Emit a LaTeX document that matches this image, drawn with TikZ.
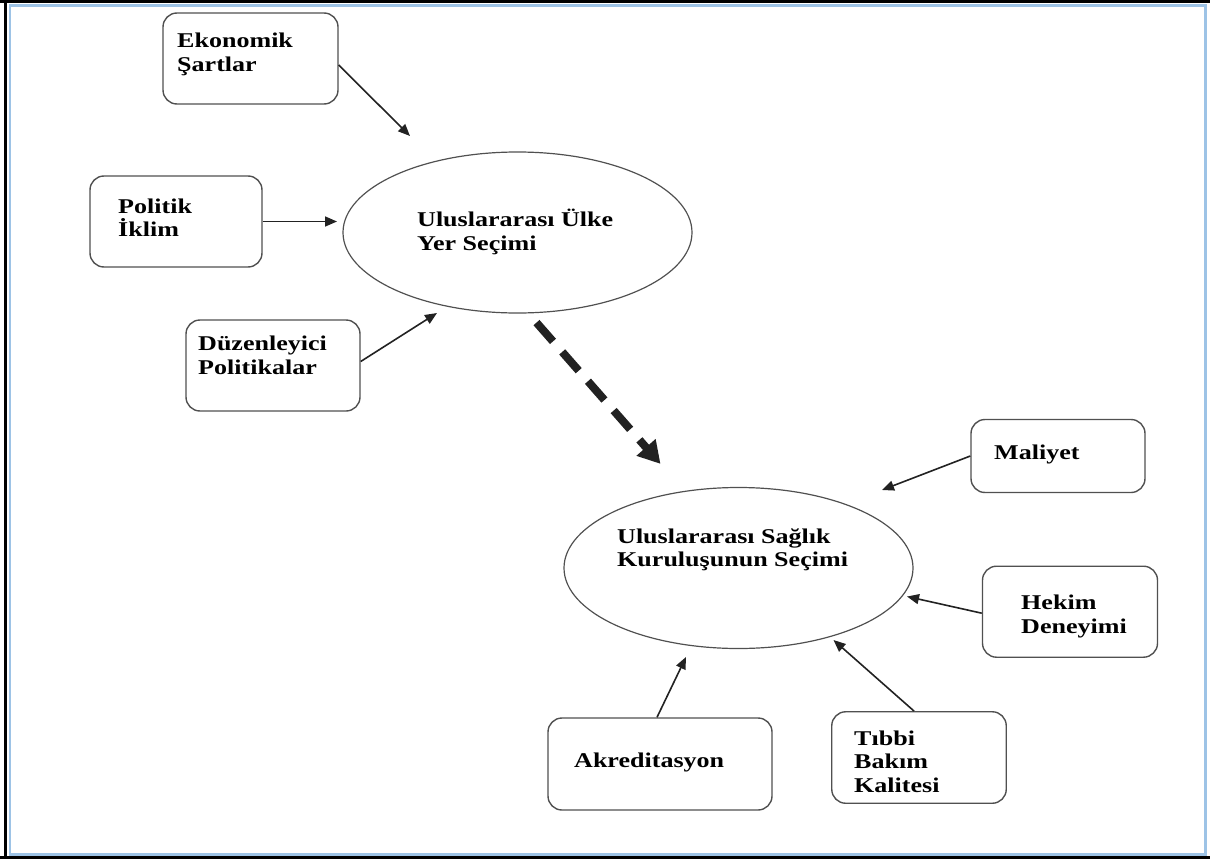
\documentclass[tikz,border=0pt]{standalone}
\usepackage{fontspec}
\setmainfont{Liberation Serif}[FakeStretch=1.24]
\usetikzlibrary{shapes.geometric,arrows.meta}
\definecolor{framebl}{HTML}{9DC3E6}
\definecolor{boxgray}{HTML}{505050}
\definecolor{arrowdark}{HTML}{222222}
\tikzset{
  factor/.style={draw=boxgray, line width=1.4pt, rounded corners=14pt, inner sep=0pt},
  goal/.style={ellipse, draw=boxgray, line width=1.2pt, inner sep=0pt, minimum width=349pt, minimum height=161pt},
  lbl/.style={anchor=base west, align=left, inner sep=0pt, font=\fontsize{21}{24}\selectfont\bfseries},
  infl/.style={draw=arrowdark, line width=1.6pt, -{Triangle[length=12pt,width=10pt]}},
  lead/.style={draw=arrowdark, line width=8pt, dash pattern=on 25pt off 14pt, -{Triangle[length=22pt,width=24pt]}}
}
\begin{document}
\begin{tikzpicture}[x=1pt,y=-1pt]
\useasboundingbox (0,0) rectangle (1210,859);
% frame
\draw[black, line width=3pt] (0,1.5) -- (1210,1.5);
\draw[black, line width=3pt] (5,0) -- (5,859);
\draw[black, line width=3pt] (0,857.5) -- (1210,857.5);
\draw[framebl, line width=2.5pt] (10,5.5) rectangle (1205.5,854.5);
% boxes
\node[factor, minimum width=175pt, minimum height=91pt] (eko) at (250.5,58.5) {};
\node[factor, minimum width=172pt, minimum height=91pt] (pol) at (176,221.5) {};
\node[factor, minimum width=174pt, minimum height=91pt] (duz) at (273,365.5) {};
\node[factor, minimum width=174pt, minimum height=73pt] (mal) at (1058,456) {};
\node[factor, minimum width=175pt, minimum height=91pt] (hek) at (1070,611.7) {};
\node[factor, minimum width=224pt, minimum height=92pt] (akr) at (660,764) {};
\node[factor, minimum width=174.5pt, minimum height=91.5pt] (tib) at (919,757.5) {};
% ellipses
\node[goal] (ue) at (517.5,232.5) {};
\node[goal] (us) at (738.5,568) {};
% labels (anchor = baseline of the last line)
\node[lbl] (ekol) at (177,71) {Ekonomik\\Şartlar};
\node[lbl, font=\fontsize{21}{23}\selectfont\bfseries] (poll) at (118,236.5) {Politik\\İklim};
\node[lbl] (duzl) at (198,374) {Düzenleyici\\Politikalar};
\node[lbl] (mall) at (994,459) {Maliyet};
\node[lbl] (hekl) at (1021,633) {Hekim\\Deneyimi};
\node[lbl] (akrl) at (574,767) {Akreditasyon};
\node[lbl, font=\fontsize{21}{23.5}\selectfont\bfseries] (tibl) at (854,792) {Tıbbi\\Bakım\\Kalitesi};
\node[lbl] (uel) at (417,250) {Uluslararası Ülke\\Yer Seçimi};
\node[lbl, font=\fontsize{21}{23}\selectfont\bfseries] (usl) at (617,566) {Uluslararası Sağlık\\Kuruluşunun Seçimi};
% arrow end points
\coordinate (c1) at (410,136);
\coordinate (c2) at (337,221.5);
\coordinate (c3) at (437,313);
\coordinate (c5) at (882,490);
\coordinate (c6) at (907,596.5);
\coordinate (c7) at (686,657);
\coordinate (c8) at (833.5,640);
% connectors
\draw[infl] ([yshift=-6.5pt]eko.east) -- (c1);
\draw[infl] (pol.east) -- (c2);
\draw[infl] ([yshift=4pt]duz.east) -- (c3);
\draw[infl] (mal.west) -- (c5);
\draw[infl] ([yshift=-1.5pt]hek.west) -- (c6);
\draw[infl] ([xshift=-3pt]akr.north) -- (c7);
\draw[infl] ([xshift=-5pt]tib.north) -- (c8);
\draw[lead] ([shift={(19,9)}]ue.south) -- ([shift={(-78,-23)}]us.north);
\end{tikzpicture}
\end{document}
